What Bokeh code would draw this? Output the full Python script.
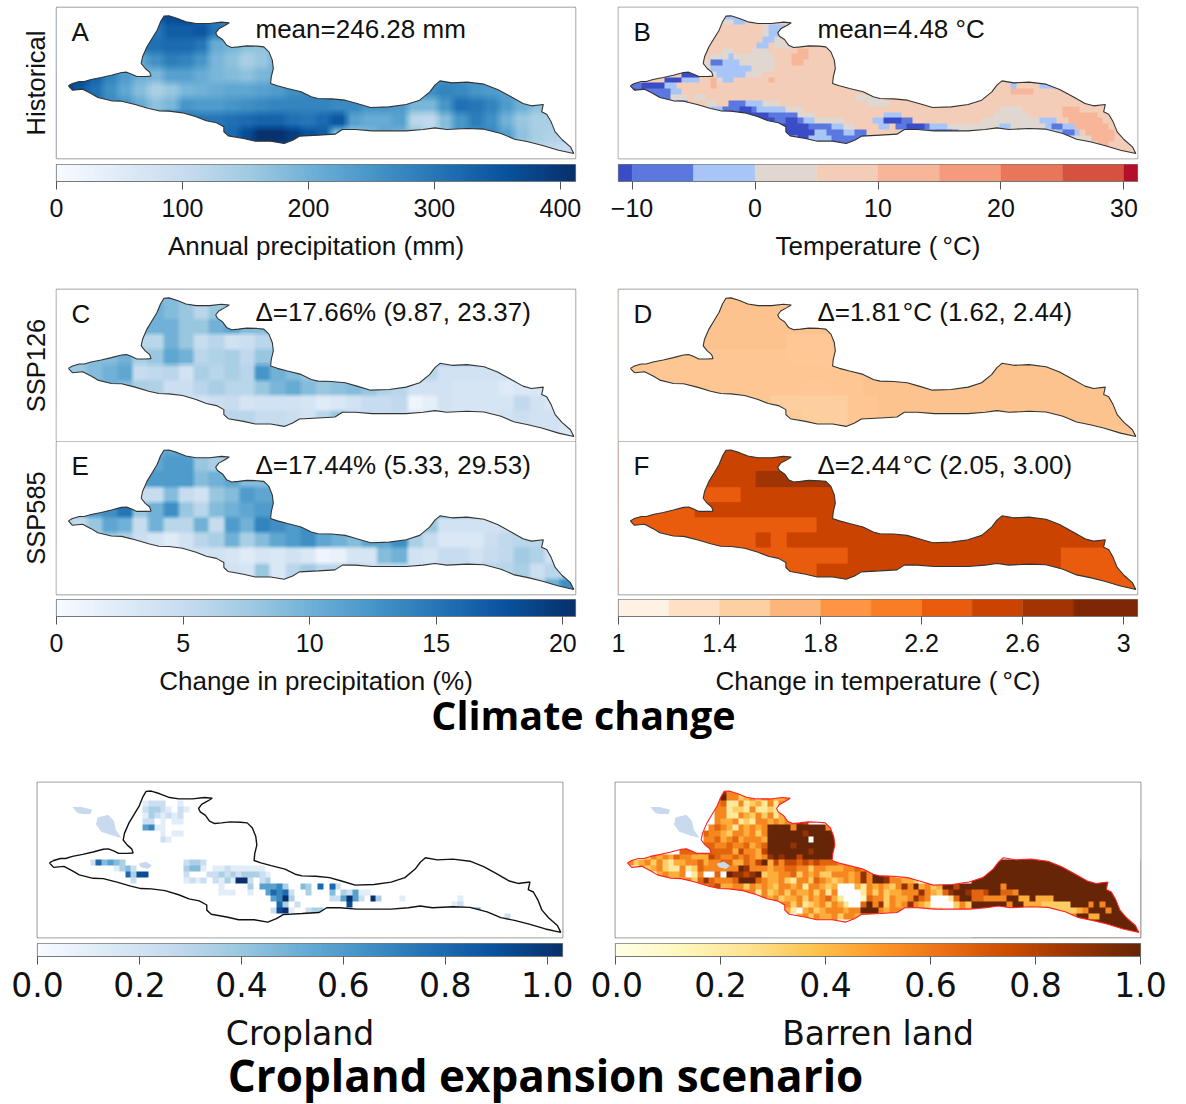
import numpy as np
from bokeh.embed import file_html
from bokeh.resources import INLINE
from bokeh.layouts import column, row
from bokeh.models import Range1d, LinearAxis, FixedTicker, Label, LinearColorMapper
from bokeh.plotting import figure

# ---------- region outline (map units: x east, y measured downward) ----------
OUTLINE_X = [53,65,85,100,120,150,180,210,225,240,255,280,297,293,280,268,272,285,300,315,325,335,350,375,400,430,470,505,528,515,497,488,493,508,520,535,555,580,610,630,645,655,658,652,650,670,700,740,770,790,830,870,905,945,1000,1050,1090,1120,1135,1150,1185,1230,1280,1320,1360,1395,1420,1455,1450,1465,1478,1490,1510,1535,1545,1500,1450,1410,1370,1330,1280,1230,1170,1135,1100,1050,1000,950,900,862,840,790,735,715,690,650,605,570,525,512,512,490,460,430,390,350,320,290,250,210,180,140,120,95,65,53]
OUTLINE_Y = [247,240,234,234,228,222,215,207,206,212,219,219,218,206,195,180,160,130,105,80,55,38,37,45,55,60,60,56,58,66,76,88,98,108,125,132,130,127,128,130,145,170,195,220,240,247,255,265,280,285,286,290,300,312,310,303,290,265,245,232,238,236,242,258,280,300,307,303,325,332,355,385,408,430,450,440,425,415,407,390,377,375,378,373,378,382,382,382,378,378,392,395,398,410,420,413,413,405,397,385,370,358,352,340,328,323,322,315,303,293,292,282,270,257,260,247]
LAKE_X = [[122,145,175,172,150,135],[195,225,240,245,260,235,205,190],[315,335,350,340,320]]
LAKE_Y = [[85,85,92,103,103,100],[115,108,125,150,172,165,155,135],[250,245,255,263,258]]

# ---------- coarse grids, 34 columns x 10 rows ----------
A_PRECIP = [
 [300,300,300,300,300,300,340,370,380,320,290,300,300,300,300],
 [300,300,300,300,300,300,300,340,340,350,300,250,220,200,200],
 [300,300,300,300,300,300,310,320,320,300,210,190,170,170,180],
 [300,300,300,290,280,220,260,290,280,250,190,170,140,160,200],
 [400,380,330,280,240,200,190,230,230,210,190,180,170,190,200,230,240,250],
 [400,350,310,260,220,180,140,160,190,200,210,220,220,230,240,260,270,280,280,270,260,250,250,250,260,280,270,250,240,230,220,200,180,170],
 [400,340,320,270,250,210,170,190,250,240,240,250,260,270,280,280,280,280,270,270,250,250,240,190,190,250,310,300,280,240,200,170,160,150],
 [400,360,340,320,310,300,330,350,310,300,300,310,320,330,330,310,300,320,350,230,210,210,230,120,110,180,250,290,260,200,160,140,140,120],
 [400,400,400,350,330,300,300,300,310,310,310,320,370,410,410,390,360,340,170,160,190,220,200,160,120,170,250,260,270,230,170,140,130,120],
 [400,400,400,350,330,300,300,300,310,310,310,320,350,380,370,360,340,320,170,160,190,220,200,160,120,170,250,260,270,230,130,120,110,100],
]
C_CHANGE = [
 [8,8,8,8,8,9,9,9,8,7,7,7,7,7,7],
 [9,9,9,9,9,10,10,9,8,6,8,9,9,9,9],
 [9,9,9,9,9,10,10,10,8,8,10,11,9,9,9],
 [9,9,9,9,9,6,6,10,8,5,6,4,4.5,6,6],
 [8,8,9,9,10,7,8,11,10,6,6.5,7,5.5,8,8,8],
 [8,8,9,10,11,5,5.5,6,4,7,6,7,6,12.5,10,9,8,7,7,7,6,6,6,6,6,4,4,4,4,4,4,4,4,4],
 [9,9,9,10,9,7,6.5,4.5,4.5,6,7,6,6,8,9.5,10.5,9,8,8.5,9,8,6.5,6,4,4,4,3.5,3.5,3.5,2.5,3,3,3,3],
 [6,6,6,6,6,5,5,4.5,4.5,4,4.5,5,3.5,4,4,4,3.5,2.5,3,4,5,5,5.5,1,2,4,3.5,3.5,3.5,3.5,5.5,4,3,3],
 [5,5,5,5,5,5,5,5,5,5,5.5,6,6,5,5,4.5,4,6,8,5,5,5,5,3,3,4,4,3.5,3.5,4,4.5,4,4,3],
 [5,5,5,5,5,5,5,5,5,5,5.5,6,6,5,5,4.5,4,6,8,5,5,5,5,3,3,4,4,3.5,3.5,4,4.5,4,4,3],
]
E_CHANGE = [
 [10,10,10,10,10,10,10,11,11,9,8,8,8,8,8],
 [10,10,10,10,10,11,11,12,12,8,7,9,9,9,9],
 [10,10,10,10,10,11,12,12,12,9,10,11,9,9,9],
 [9,9,9,9,9,5,5,9,5,4,8,9,12,11,11],
 [9,9,12,13,15,8,10,13,8,6,9,10,11,12,12,12],
 [7,5.5,8,11,10,5,10,6,6,10,5,12,10,14,13,12,13,12,10,9,8,8,8,8,8,4,4,4,4,4,4,4,4,4],
 [6,6,6,8,7,4.5,3.5,2.5,4,6,7,10,7,9,11,12,13,11,10,9,11,11,13,7,5,3,3,3,4.5,5.5,6,6,6,6],
 [4,4,4,4,4,4,4,4,4,4,4,3.5,2.5,3.5,3,4,3,1,1.5,3.5,3.5,9,10,4,3.5,5,5,4,5,5.5,7.5,6.5,4,5],
 [4,4,4,4,4,4,4,4,4,4,4,4,3.5,8,3,6,7.5,6,6,6,5,5,5,4,4,5,5,6,6,6,7,4.5,6,6],
 [4,4,4,4,4,4,4,4,4,4,4,4,3.5,8,3,6,7.5,6,6,6,5,5,5,4,4,5,5,6,6,6,7,6,10,13],
]
D_WARM = [  # digit d means 1.50 + 0.03 d degrees
 "5555555555555555555555555555555555",
 "5555555555555555555555555555555555",
 "5555555555555555555555555555555555",
 "5555555555533355555555555555555555",
 "4444444444433344555555555555555555",
 "4444444444444444555555555555555555",
 "4444444444443344555555555555555555",
 "4444444444111114455555555555555555",
 "4444444444221114455555555555555555",
 "4444444444444444444444444444444444",
]
F_WARM = [  # L 2.2-2.4, M 2.4-2.6, D 2.6-2.8
 "M"*34,
 "M"*34,
 "M"*9 + "D"*5 + "M"*20,
 "M"*5 + "L"*3 + "M"*26,
 "L"*5 + "M"*29,
 "L"*13 + "M"*21,
 "L"*9 + "M" + "L" + "M"*23,
 "L"*15 + "M"*14 + "L"*5,
 "M"*9 + "L"*4 + "M"*16 + "L"*5,
 "M"*29 + "L"*5,
]

# ---------- fine grids, 90 columns x 26 rows ----------
B_RUNS = [  # row, first col, last col, class (0 <-10, 1 -10..-5, 2 -5..0, 3 0..5, 5 10..15)
 (1,18,22,2),(2,17,19,3),(2,20,21,2),(3,25,29,3),(3,26,28,2),(4,25,28,3),(4,26,27,2),(5,27,28,3),(5,25,26,2),(6,27,29,3),(6,24,25,2),
 (7,18,19,3),(7,23,25,3),(8,16,21,3),(8,22,26,3),(9,15,26,3),(10,15,26,3),(11,16,24,3),(12,17,19,3),
 (9,18,20,2),(10,16,22,2),(11,17,21,2),(12,18,19,2),(9,16,17,1),(8,19,19,2),
 (8,30,32,5),(9,30,31,5),(7,31,32,5),(12,26,26,5),(12,16,16,5),(13,16,16,5),
 (11,11,13,0),(12,8,10,0),(12,11,13,2),(13,2,3,1),(13,4,7,0),(13,8,9,2),(14,3,8,1),(14,9,10,2),(14,2,2,0),(15,6,8,1),(15,9,11,3),(15,13,14,3),(16,9,11,2),(16,10,11,1),
 (16,19,21,1),(16,22,24,2),(16,25,27,3),(16,15,16,3),
 (17,16,18,2),(17,18,19,1),(17,20,23,1),(17,21,22,0),(17,24,28,2),(17,29,31,3),
 (18,19,25,0),(18,26,30,1),(18,31,33,3),(18,18,18,2),
 (19,23,26,0),(19,27,31,1),(19,32,33,2),(19,34,38,3),(19,29,30,0),
 (20,27,28,1),(20,28,32,0),(20,33,36,1),(20,37,38,2),(20,39,40,3),
 (21,29,33,0),(21,34,35,2),(21,36,38,1),(21,39,40,2),(21,41,42,1),
 (22,30,34,2),(22,31,32,0),(22,35,41,2),(22,37,39,1),(22,40,42,1),(23,35,41,2),(23,38,40,1),
 (15,41,45,3),(16,43,46,3),
 (17,66,69,3),(18,65,70,3),(19,63,72,3),(20,57,73,3),(21,58,75,3),
 (18,46,48,2),(19,44,50,2),(19,46,48,0),(20,45,46,2),(20,48,53,1),(20,50,52,0),(21,50,53,2),(21,54,58,1),(21,55,57,0),(20,54,56,2),(19,49,50,1),
 (19,73,75,2),(20,74,78,2),(20,75,76,1),(21,76,79,2),(21,77,78,1),(21,67,67,2),(20,66,67,2),(22,72,72,2),
 (17,77,79,5),(18,77,82,5),(19,78,83,5),(20,79,84,5),(21,81,85,5),(22,82,85,5),(23,83,84,5),(22,78,81,3),(23,79,82,3),
 (13,68,68,2),(13,73,75,2),(14,68,71,5),
]
H_WEST = [
 "",
 " "*18 + "85542",
 " "*17 + "5955345255445545",
 " "*17 + "56225234252545",
 " "*17 + "5523325223254",
 " "*17 + "55225435352456",
 " "*17 + "5445232554545687",
 " "*16 + "5654254545" + "9" + "99959999955",
 " "*15 + "65543554535" + "9" + "99999899999",
 " "*15 + "55645645554" + "9" + "99999909999",
 " "*15 + "66556556456" + "9" + "99989999999",
 " "*11 + "6665" + "66666475547" + "9" + "99999989999",
 " "*5 + "3545465544" + "47655656545" + "8" + "98997999999",
 " "*2 + "5345353244556" + "455664465794" + "75776767666",
 " "*4 + "53453225236" + "555555985554" + "55665535544",
 " "*7 + "45445025" + "006098878934" + "45563545335",
 " "*9 + "554536" + "865556999654" + "45325536543",
 " "*14 + "5" + "567445535454" + "35545255434",
 " "*18 + "545655253" + "45354453525",
 " "*21 + "354354" + "53445354564",
 " "*25 + "45" + "45535234535",
 " "*27 + "35420453455",
 " "*28 + "2004535445",
 " "*33 + "55545",
 "",
 "",
]
H_MID = [
 "","","","","","","","","","","","","",
 "55",
 "4556585",
 "5545859985",
 "45458599855443",
 "00042545435859453499799",
 "00002535344555854368998",
 "20001655354458650002699",
 "42006958354585430000353",
 "54559995455458543200354",
 "35544555443355443335445",
 "",
 "",
 "",
]
H_EAST = [
 "","","","","","","","","","","","","",
 "9"*29, "9"*29, "9"*29, "9"*29,
 "99999599999999999999999999999",
 "66799665999999999999999999999",
 "66555599449444999999999999999",
 "99999959944433333999595999999",
 "99999945954433333345999599999",
 "55555555544433334599449999999",
 "9"*29, "9"*29, "9"*29,
]
G_RUNS = [  # row, first col, digits (cropland share, d/9)
 (3,18,"1222"),(3,24,"1"),(4,18,"23321"),(4,24,"21"),(5,18,"1321212"),(6,18,"22"),(6,21,"1"),(6,23,"11"),
 (7,18,"56"),(7,20,"11"),(8,21,"1"),(8,23,"11"),(9,21,"2"),(9,22,"1"),
 (13,9,"27"),(13,11,"4543"),(14,13,"13"),(14,15,"42"),(15,15,"7"),(15,16,"3"),(15,17,"8"),(15,18,"8"),(16,16,"2"),
 (13,25,"2332"),(14,25,"3441"),(15,25,"2"),(14,30,"11211"),(14,35,"1111"),(15,29,"2232323"),(15,36,"3321"),
 (16,25,"1212"),(16,30,"21312"),(16,34,"99"),(16,36,"2"),(16,38,"23"),
 (17,31,"1"),(17,36,"3"),(17,38,"5556"),(17,42,"3"),(18,31,"111"),(18,36,"1"),(18,39,"5767"),(18,43,"2"),
 (19,40,"569"),(19,43,"3"),(20,41,"7"),(20,42,"3"),(21,40,"289"),(21,43,"1"),(20,44,"2"),
 (17,45,"4"),(17,46,"3"),(17,48,"7"),(17,50,"7"),(17,51,"2"),(18,46,"3"),(18,50,"4"),
 (19,50,"223"),(19,52,"555"),(19,53,"9"),(19,55,"2"),(19,57,"9"),(19,58,"3"),(18,52,"32"),(18,54,"5"),(18,55,"11"),(20,53,"8"),
 (21,46,"233"),(20,71,"12"),(21,72,"2555"),(19,72,"1"),(22,80,"2"),(19,62,"1"),
]

# ---------- colour bars ----------
TEMP_EDGES = [-11.1,-10,-5,0,5,10,15,20,25,30,31.1]
TEMP_COLORS = ["#3a4dc6","#5b77e0","#a8c5f8","#e0d8d0","#f3cdb8","#f7b59a","#f59a7c","#e9755a","#d55140","#b50f2c"]
WARM_EDGES = [1,1.2,1.4,1.6,1.8,2.0,2.2,2.4,2.6,2.8,3.055]
WARM_COLORS = ["#fff1e3","#fee0c4","#fdd0a2","#fdb67a","#fd9543","#f87d25","#e95c0d","#cb4301","#a03403","#7f2704"]
BLUES = ["#f7fbff","#deebf7","#c6dbef","#9ecae1","#6baed6","#4292c6","#2171b5","#08519c","#08306b"]
YLORBR = ["#ffffe5","#fff7bc","#fee391","#fec44f","#fe9929","#ec7014","#cc4c02","#993404","#662506"]
PRECIP_TICKS = [0,100,200,300,400]
TEMP_TICKS = [-10,0,10,20,30]
CHANGE_TICKS = [0,5,10,15,20]
WARM_TICKS = [1,1.4,1.8,2.2,2.6,3]
SHARE_TICKS = [0,0.2,0.4,0.6,0.8,1.0]

SANS = "Liberation Sans"
DEJA = "DejaVu Sans"
MX0, MX1, MY0, MY1 = 18, 1550, 12, 465

def blend(stops, n=256):
    rgb = np.array([[int(c[i:i+2],16) for i in (1,3,5)] for c in stops], float)
    t = np.linspace(0, len(stops)-1, n)
    out = np.stack([np.interp(t, np.arange(len(stops)), rgb[:,k]) for k in range(3)], 1)
    return ["#%02x%02x%02x" % tuple(int(round(v)) for v in c) for c in out]

def up(arr, k, blur=0):
    a = np.kron(np.asarray(arr, float), np.ones((k,k)))
    if blur > 1:
        ker = np.ones(blur)/blur
        pad = blur
        a = np.pad(a, pad, mode="edge")
        a = np.apply_along_axis(lambda v: np.convolve(v, ker, "same"), 0, a)
        a = np.apply_along_axis(lambda v: np.convolve(v, ker, "same"), 1, a)
        a = a[pad:-pad, pad:-pad]
    return a

def fit(rows):
    return [list(r)+[r[-1]]*(34-len(r)) for r in rows]

def base(width, height, left, right, top, bottom, xr, yr, **kw):
    p = figure(width=width, height=height, x_range=xr, y_range=yr,
               toolbar_location=None, output_backend="svg",
               x_axis_location=None, y_axis_location=None,
               min_border_left=left, min_border_right=right, min_border_top=top, min_border_bottom=bottom, **kw)
    p.grid.visible = False
    p.background_fill_color = "white"
    p.border_fill_color = "white"
    return p

def panel(width, height, left, right, top, bottom, frame_color="#808080", frame_w=1.4):
    p = base(width, height, left, right, top, bottom, Range1d(MX0,MX1), Range1d(MY0,MY1))
    p.outline_line_color = frame_color
    p.outline_line_width = frame_w
    return p

def flipy(ys):
    return [MY0+MY1-y for y in ys]

def grid_image(p, arr, mapper, coarse=True):
    a = np.flipud(arr)
    if coarse:
        p.image(image=[a], x=18, y=MY0+MY1-463, dw=1530, dh=450, color_mapper=mapper)
    else:
        p.image(image=[a], x=MX0, y=MY0, dw=MX1-MX0, dh=MY1-MY0, color_mapper=mapper)

def finish(p, line="#333333", lw=1.1, lakes=False):
    rx = [MX0-5, MX1+5, MX1+5, MX0-5]
    ry = [MY0-5, MY0-5, MY1+5, MY1+5]
    p.multi_polygons(xs=[[[rx, OUTLINE_X]]], ys=[[[ry, flipy(OUTLINE_Y)]]], fill_color="white", line_color=None)
    if lakes:
        p.patches(LAKE_X, [flipy(y) for y in LAKE_Y], fill_color="#c9daee", line_color="#c9daee")
    p.line(OUTLINE_X, flipy(OUTLINE_Y), line_color=line, line_width=lw)

def note(p, text, dx, dy, w, h, size="26px"):
    x = MX0 + dx*(MX1-MX0)/w
    y = MY1 - dy*(MY1-MY0)/h
    p.add_layout(Label(x=x, y=y, text=text, text_font=SANS, text_font_size=size, text_color="#111111",
                       text_align="left", text_baseline="middle"))

def side_label(p, text):
    ax = LinearAxis(ticker=FixedTicker(ticks=[]), axis_label=text)
    ax.axis_line_color = None
    ax.major_tick_line_color = None
    ax.minor_tick_line_color = None
    ax.major_label_text_font_size = "0px"
    ax.major_label_standoff = 0
    ax.major_tick_out = 0
    ax.minor_tick_out = 0
    ax.axis_label_standoff = 7
    ax.axis_label_text_font = SANS
    ax.axis_label_text_font_size = "25.5px"
    ax.axis_label_text_font_style = "normal"
    ax.axis_label_text_color = "#111111"
    p.add_layout(ax, "left")

def cbar(width, height, left, right, top, bottom, lo, hi, ticks, title, edges=None, colors=None,
         stops=None, font=SANS, tick_size="25px", title_size="26px", overrides=None, standoff=11, tick_standoff=9):
    p = base(width, height, left, right, top, bottom, Range1d(lo,hi), Range1d(0,1))
    p.outline_line_color = "#777777"
    p.outline_line_width = 1.2
    if stops:
        m = LinearColorMapper(palette=blend(stops), low=lo, high=hi)
        p.image(image=[np.linspace(lo,hi,400).reshape(1,-1)], x=lo, y=0, dw=hi-lo, dh=1, color_mapper=m)
    else:
        p.quad(left=edges[:-1], right=edges[1:], bottom=0, top=1, fill_color=colors, line_color=colors, line_width=0.3)
    ax = LinearAxis(ticker=FixedTicker(ticks=ticks), axis_label=title)
    ax.major_label_text_font = font
    ax.major_label_text_font_size = tick_size
    ax.major_label_text_color = "#111111"
    ax.axis_label_text_font = font
    ax.axis_label_text_font_size = title_size
    ax.axis_label_text_font_style = "normal"
    ax.axis_label_text_color = "#111111"
    ax.axis_label_standoff = standoff
    ax.major_label_standoff = tick_standoff
    ax.major_tick_out = 8
    ax.major_tick_in = 0
    ax.minor_tick_out = 0
    ax.minor_tick_in = 0
    ax.major_tick_line_color = "#555555"
    ax.axis_line_color = "#777777"
    if overrides:
        ax.major_label_overrides = overrides
    p.add_layout(ax, "below")
    return p

def title_fig(text, height, center_x, y_from_top, size, overlap):
    p = base(1178, height, 0, 0, 0, 0, Range1d(0,1178), Range1d(0,height), margin=(-overlap,0,0,0))
    p.background_fill_alpha = 0
    p.border_fill_alpha = 0
    p.outline_line_color = None
    p.add_layout(Label(x=center_x, y=height-y_from_top, text=text, text_font="Open Sans", text_font_style="bold",
                       text_font_size=size, text_color="black", text_align="center", text_baseline="middle"))
    return p

# ---------- row 1 ----------
L_W, R_W = 590, 588
W = 519
pA = panel(L_W,162,56,15,7,4)
grid_image(pA, up(fit(A_PRECIP),15,9), LinearColorMapper(palette=blend(BLUES), low=0, high=412))
finish(pA)
note(pA,"A",15,24,W,151); note(pA,"mean=246.28 mm",199,21,W,151)
side_label(pA,"Historical")

b = np.full((26,90),4.0)
for r,c0,c1,k in B_RUNS:
    b[r,c0:c1+1] = k
pB = panel(R_W,162,28,41,7,4)
grid_image(pB, up(b,3), LinearColorMapper(palette=TEMP_COLORS, low=0, high=10), coarse=False)
finish(pB)
note(pB,"B",15,24,W,151); note(pB,"mean=4.48 \u00b0C",199,21,W,151)

cA = cbar(L_W,118,56,15,2,99,0,412,PRECIP_TICKS,"Annual precipitation (mm)",stops=BLUES)
cB = cbar(R_W,118,28,41,2,99,-11.1,31.1,TEMP_TICKS,"Temperature (\u2009\u00b0C)",edges=TEMP_EDGES,colors=TEMP_COLORS,
          overrides={-10:"\u221210"})

# ---------- rows 3 and 4 ----------
BLUE_M = lambda: LinearColorMapper(palette=blend(BLUES), low=0, high=20.5)
pC = panel(L_W,161,56,15,9,0)
grid_image(pC, up(fit(C_CHANGE),15,5), BLUE_M())
finish(pC)
note(pC,"C",15,24,W,152); note(pC,"\u0394=17.66% (9.87, 23.37)",199,22,W,152)
side_label(pC,"SSP126")

dv = np.array([[1.5+0.03*int(ch) for ch in r] for r in D_WARM])
pD = panel(R_W,161,28,41,9,0)
grid_image(pD, up(dv,15), LinearColorMapper(palette=blend(["#fdd0a2","#fdb67a"],64), low=1.5, high=1.8))
finish(pD)
note(pD,"D",15,24,W,152); note(pD,"\u0394=1.81\u200a\u00b0C (1.62, 2.44)",199,22,W,152)

pE = panel(L_W,156,56,15,0,3)
grid_image(pE, up(fit(E_CHANGE),15,5), BLUE_M())
finish(pE)
note(pE,"E",15,24,W,153); note(pE,"\u0394=17.44% (5.33, 29.53)",199,23,W,153)
side_label(pE,"SSP585")

fv = np.array([["LMD".index(ch) for ch in r] for r in F_WARM], float)
pF = panel(R_W,156,28,41,0,3)
grid_image(pF, up(fv,15), LinearColorMapper(palette=WARM_COLORS[6:9], low=-0.5, high=2.5))
finish(pF)
note(pF,"F",15,24,W,153); note(pF,"\u0394=2.44\u200a\u00b0C (2.05, 3.00)",199,23,W,153)

cC = cbar(L_W,101,56,15,2,82,0,20.5,CHANGE_TICKS,"Change in precipitation (%)",stops=BLUES)
cD = cbar(R_W,101,28,41,2,82,1,3.055,WARM_TICKS,"Change in temperature (\u2009\u00b0C)",edges=WARM_EDGES,colors=WARM_COLORS,
          overrides={1:"1",1.4:"1.4",1.8:"1.8",2.2:"2.2",2.6:"2.6",3:"3"})

t1 = title_fig("Climate change",92,583,36,"39.5px",20)

# ---------- lower panels ----------
g = np.full((26,90),np.nan)
for r,c,ds in G_RUNS:
    for i,ch in enumerate(ds):
        g[r,c+i] = int(ch)/9
pG = panel(L_W,170,37,28,12,3,frame_color="#666666",frame_w=1.6)
grid_image(pG, up(g,3), LinearColorMapper(palette=blend(BLUES), low=0, high=1, nan_color="white"), coarse=False)
finish(pG, line="#111111", lw=1.4, lakes=True)

h = np.full((26,90),np.nan)
for r in range(26):
    s = H_WEST[r].ljust(38)[:38] + H_MID[r].ljust(23)[:23] + H_EAST[r].ljust(29)[:29]
    for c,ch in enumerate(s):
        if ch not in " 0":
            h[r,c] = int(ch)/9
pH = panel(R_W,170,25,38,12,3,frame_color="#666666",frame_w=1.6)
grid_image(pH, up(h,3), LinearColorMapper(palette=blend(YLORBR), low=0, high=1, nan_color="white"), coarse=False)
finish(pH, line="#ff2020", lw=1.1, lakes=True)

cG = cbar(L_W,126,37,28,3,110,0,1.03,SHARE_TICKS,"Cropland",stops=BLUES,font=DEJA,tick_size="33px",title_size="33px",standoff=14,tick_standoff=7,
          overrides={0:"0.0",1:"1.0"})
cH = cbar(R_W,126,25,38,3,110,0,1.0,SHARE_TICKS,"Barren land",stops=YLORBR,font=DEJA,tick_size="33px",title_size="33px",standoff=14,tick_standoff=7,
          overrides={0:"0.0",1:"1.0"})

t2 = title_fig("Cropland expansion scenario",60,545,30,"44px",22)

layout = column(row(pA,pB),row(cA,cB),row(pC,pD),row(pE,pF),row(cC,cD),t1,row(pG,pH),row(cG,cH),t2,spacing=0)
open("out.html","w").write(file_html(layout, INLINE))
